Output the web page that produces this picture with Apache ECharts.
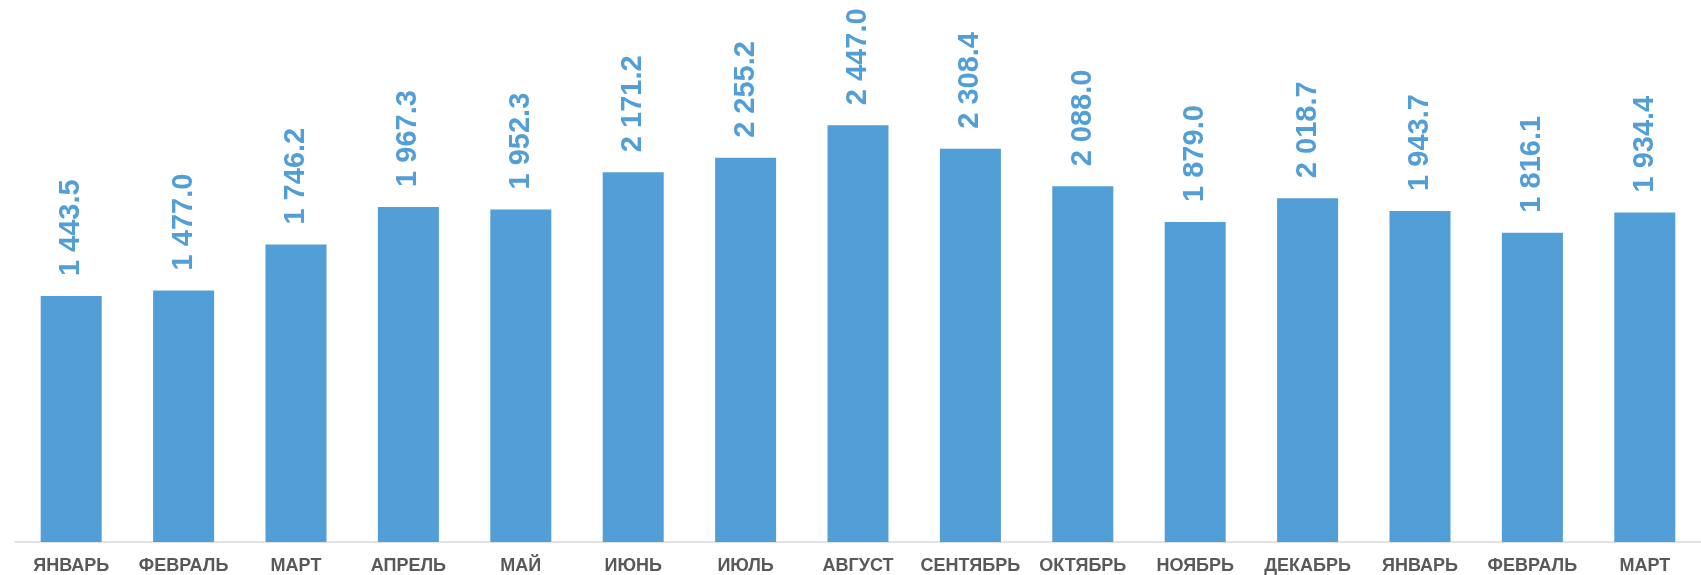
<!DOCTYPE html>
<html>
<head>
<meta charset="utf-8">
<script src="https://cdn.jsdelivr.net/npm/echarts@6/dist/echarts.min.js"></script>
<style>
html,body{margin:0;padding:0;background:#fff;}
#chart{width:1701px;height:575px;}
</style>
</head>
<body>
<div id="chart"></div>
<script>
var categories = ["ЯНВАРЬ","ФЕВРАЛЬ","МАРТ","АПРЕЛЬ","МАЙ","ИЮНЬ","ИЮЛЬ","АВГУСТ","СЕНТЯБРЬ","ОКТЯБРЬ","НОЯБРЬ","ДЕКАБРЬ","ЯНВАРЬ","ФЕВРАЛЬ","МАРТ"];
var values = [1443.5,1477.0,1746.2,1967.3,1952.3,2171.2,2255.2,2447.0,2308.4,2088.0,1879.0,2018.7,1943.7,1816.1,1934.4];

function fmt(v){
  var s = v.toFixed(1);
  var parts = s.split('.');
  var ip = parts[0].replace(/\B(?=(\d{3})+(?!\d))/g, ' ');
  return ip + '.' + parts[1];
}

var chart = echarts.init(document.getElementById('chart'));
chart.setOption({
  animation:false,
  grid:{left:15,right:0,top:31,bottom:33,containLabel:false},
  xAxis:{
    type:'category',
    data:categories,
    axisTick:{show:false},
    axisLine:{lineStyle:{color:'#d9d9d9',width:1.5}},
    axisLabel:{
      interval:0,
      color:'#595959',
      fontFamily:'"Liberation Sans", Arial, sans-serif',
      fontWeight:'bold',
      fontSize:18,
      margin:15
    }
  },
  yAxis:{
    type:'value',
    min:0,max:3000,
    show:false,
    splitLine:{show:false}
  },
  series:[{
    type:'bar',
    data:values,
    barWidth:61,
    itemStyle:{color:'#529ed6'},
    label:{
      show:true,
      position:'top',
      rotate:90,
      align:'left',
      verticalAlign:'middle',
      distance:20,
      color:'#529ed6',
      fontFamily:'"Liberation Sans", Arial, sans-serif',
      fontWeight:'bold',
      fontSize:29,
      formatter:function(p){return fmt(p.value);}
    }
  }]
});
</script>
</body>
</html>
